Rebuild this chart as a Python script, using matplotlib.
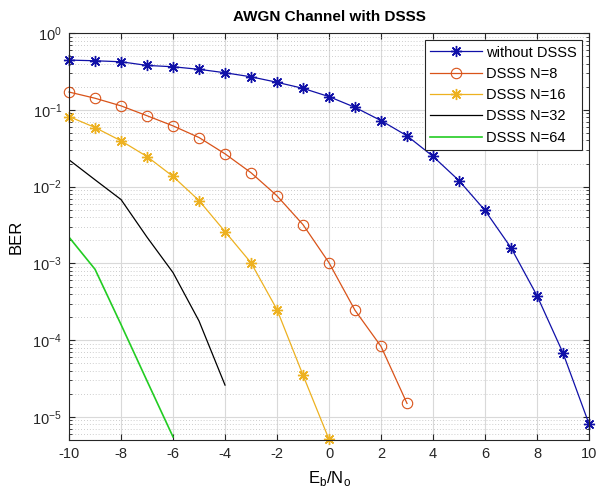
import numpy as np
import matplotlib
matplotlib.use('Agg')
import matplotlib.pyplot as plt
from matplotlib.ticker import LogLocator, NullFormatter

plt.rcParams['font.family'] = ['Liberation Sans', 'DejaVu Sans']
plt.rcParams['axes.unicode_minus'] = False

# Eb/No axis values for each curve
snr_plain = list(range(-10, 11))
snr_n8 = list(range(-10, 4))
snr_n16 = list(range(-10, 1))
snr_n32 = list(range(-10, -3))
snr_n64 = list(range(-10, -5))

# BER
ber_plain = [0.446, 0.437, 0.424, 0.38, 0.365, 0.338, 0.305, 0.27, 0.229, 0.191,
             0.149, 0.108, 0.0726, 0.046, 0.0248, 0.012, 0.0049, 0.0016,
             3.8e-4, 6.8e-5, 8.1e-6]
ber_n8 = [0.171, 0.142, 0.113, 0.084, 0.062, 0.0437, 0.0268, 0.0152, 0.0076,
          0.0032, 0.00102, 2.45e-4, 8.3e-5, 1.5e-5]
ber_n16 = [0.082, 0.059, 0.0396, 0.0247, 0.0136, 0.0066, 0.0026, 0.00102,
           2.5e-4, 3.5e-5, 5.1e-6]
ber_n32 = [0.0224, 0.0123, 0.0068, 0.0022, 7.6e-4, 1.78e-4, 2.6e-5]
ber_n64 = [0.0022, 8.4e-4, 1.6e-4, 2.95e-5, 5.5e-6]

asterisk = (8, 2, 0)  # matlab-style '*'

fig = plt.figure(figsize=(5.98, 4.95), dpi=100)
ax = fig.add_axes([0.1154, 0.111, 0.985 - 0.1154, 0.933 - 0.111])

ax.semilogy(snr_plain, ber_plain, '-', marker=asterisk, color='#1010a8', lw=0.9, ms=8, mew=1.0,
            label='without DSSS', clip_on=False)
ax.semilogy(snr_n8, ber_n8, '-o', color='#D95319', lw=0.9, ms=7.5, mfc='none', mew=0.8,
            label='DSSS N=8', clip_on=False)
ax.semilogy(snr_n16, ber_n16, '-', marker=asterisk, color='#EDB120', lw=0.9, ms=8, mew=1.0,
            label='DSSS N=16', clip_on=False)
ax.semilogy(snr_n32, ber_n32, '-', color='black', lw=0.9, label='DSSS N=32')
ax.semilogy(snr_n64, ber_n64, '-', color='#22cc22', lw=1.2, label='DSSS N=64')

ax.set_xlim(-10, 10)
ax.set_ylim(5e-6, 1)
ax.set_xticks(range(-10, 11, 2))
ax.yaxis.set_major_locator(LogLocator(base=10, numticks=10))
ax.yaxis.set_minor_locator(LogLocator(base=10, subs=np.arange(2, 10), numticks=10))
ax.yaxis.set_minor_formatter(NullFormatter())

ax.grid(True, which='major', color='#d9d9d9', lw=0.8, ls='-')
ax.grid(True, which='minor', axis='y', color='#bdbdbd', lw=0.6, ls=(0, (1, 2.5)))
ax.set_axisbelow(True)

ax.tick_params(which='both', direction='in', top=True, right=True, labelsize=10.5, colors='#262626')
ax.tick_params(which='major', length=4, pad=5)
ax.tick_params(which='minor', length=2)
for s in ax.spines.values():
    s.set_color('#262626')
    s.set_linewidth(0.8)

ax.set_title('AWGN Channel with DSSS', fontsize=11, fontweight='bold', pad=9)
ax.set_xlabel('E$_\\mathregular{b}$/N$_\\mathregular{o}$', fontsize=12, labelpad=6)
ax.set_ylabel('BER', fontsize=12, labelpad=6)

leg = ax.legend(loc='upper right', fontsize=10.5, fancybox=False, framealpha=1,
                edgecolor='#262626', handlelength=3.5, borderpad=0.35,
                labelspacing=0.5, handletextpad=0.3, borderaxespad=0.5)
leg.get_frame().set_linewidth(0.8)

fig.savefig('out.png', dpi=100)
